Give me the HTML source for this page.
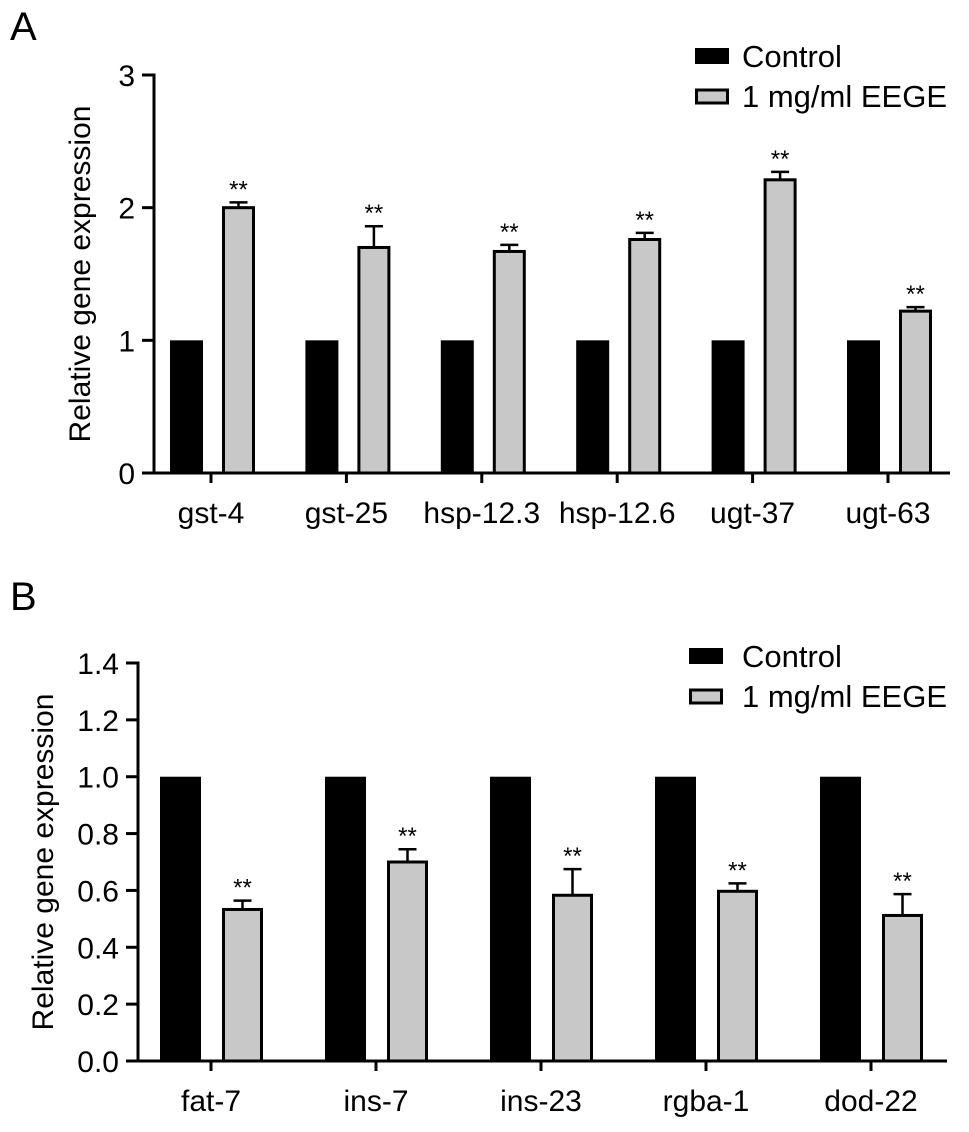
<!DOCTYPE html>
<html><head><meta charset="utf-8"><style>
html,body{margin:0;padding:0;background:#fff;}
svg{display:block;font-family:"Liberation Sans",Arial,sans-serif;}
</style></head><body>
<svg id="chart" width="969" height="1132" viewBox="0 0 969 1132" xmlns="http://www.w3.org/2000/svg"></svg>
<script>
// Panel A data
const catsA = ["gst-4","gst-25","hsp-12.3","hsp-12.6","ugt-37","ugt-63"];
const controlA = [1,1,1,1,1,1];
const eegeA = [2.0,1.70,1.67,1.76,2.21,1.22];
const errA = [0.04,0.16,0.05,0.05,0.06,0.03];
const ticksA = [0,1,2,3];
const tickLabelsA = ["0","1","2","3"];
// Panel B data
const catsB = ["fat-7","ins-7","ins-23","rgba-1","dod-22"];
const controlB = [1,1,1,1,1];
const eegeB = [0.533,0.70,0.583,0.597,0.512];
const errB = [0.031,0.045,0.092,0.028,0.075];
const ticksB = [0,0.2,0.4,0.6,0.8,1.0,1.2,1.4];
const tickLabelsB = ["0.0","0.2","0.4","0.6","0.8","1.0","1.2","1.4"];

const NS="http://www.w3.org/2000/svg";
const svg=document.getElementById('chart');
function mk(tag,attrs,parent){const e=document.createElementNS(NS,tag);for(const k in attrs)e.setAttribute(k,attrs[k]);(parent||svg).appendChild(e);return e;}

function panel(o){
  const g=mk('g',{});
  
  
  const y=v=>o.y0-(v-o.vmin)/(o.vmax-o.vmin)*(o.y0-o.yTop);
  const xc=i=>o.firstTick+i*o.step;
  const L=mk('text',{x:10,y:o.letterY,'font-size':40},g);L.textContent=o.letter;
  
  
  const t=mk('text',{x:0,y:0,'font-size':30,'text-anchor':'middle',transform:`translate(${o.titleX},${(o.y0+o.yTop)/2}) rotate(-90)`},g);
  t.textContent='Relative gene expression';
  
  
  o.cats.forEach((c,i)=>{
    const cx=xc(i);
    const b1=mk('rect',{x:cx-o.off2,y:y(o.ctrl[i]),width:o.bw,height:o.y0-y(o.ctrl[i]),fill:'#000'},g);
    
    
    const top=y(o.eege[i]);
    const b2=mk('rect',{x:cx+o.off1+1.5,y:top,width:o.bw-3,height:o.y0-top,fill:'#c8c8c8',stroke:'#000','stroke-width':3},g);
    
    
    const ecx=cx+o.off1+o.bw/2, et=y(o.eege[i]+o.err[i]);
    const eb=mk('path',{d:`M${ecx},${top} V${et} M${ecx-9},${et} H${ecx+9}`,stroke:'#000','stroke-width':2.5,fill:'none'},g);
    
    
    const s=mk('text',{x:ecx,y:et-5,'font-size':24,'text-anchor':'middle'},g);s.textContent='**';
    
    
    const tk=mk('line',{x1:cx,x2:cx,y1:o.y0,y2:o.y0+10,stroke:'#000','stroke-width':3},g);
    
    
    const xl=mk('text',{x:cx,y:o.y0+50,'font-size':30,'text-anchor':'middle'},g);xl.textContent=c;
    
    
  });
  const ya=mk('line',{x1:o.axX,x2:o.axX,y1:o.yTop-1.5,y2:o.y0+1.5,stroke:'#000','stroke-width':3},g);
  
  
  const xa=mk('line',{x1:o.axX,x2:o.axEnd,y1:o.y0,y2:o.y0,stroke:'#000','stroke-width':3},g);
  
  
  o.ticks.forEach((v,i)=>{
    const ty=y(v);
    const tl=mk('line',{x1:o.axX-12,x2:o.axX,y1:ty,y2:ty,stroke:'#000','stroke-width':3},g);
    
    
    const tx=mk('text',{x:o.axX-19,y:ty+11,'font-size':30,'text-anchor':'end'},g);tx.textContent=o.tickLabels[i];
    
    
  });
  const lg=mk('g',{},g);
  
  
  const r1=mk('rect',{x:o.legX,y:o.legY,width:34,height:16,fill:'#000'},lg);
  
  
  const l1=mk('text',{x:742,y:o.legY+19,'font-size':31},lg);l1.textContent='Control';
  
  
  const r2=mk('rect',{x:o.legX+1.5,y:o.legY+42,width:31,height:13,fill:'#c8c8c8',stroke:'#000','stroke-width':3},lg);
  
  
  const l2=mk('text',{x:742,y:o.legY+59,'font-size':31},lg);l2.textContent='1 mg/ml EEGE';
  
  
}

panel({name:'panel-a',letter:'A',letterY:40,cats:catsA,ctrl:controlA,eege:eegeA,err:errA,ticks:ticksA,tickLabels:tickLabelsA,
  vmin:0,vmax:3,y0:473,yTop:75,axX:154,axEnd:950,firstTick:211,step:135.4,bw:33,off2:41,off1:11,titleX:90,legX:695,legY:48});
panel({name:'panel-b',letter:'B',letterY:610,cats:catsB,ctrl:controlB,eege:eegeB,err:errB,ticks:ticksB,tickLabels:tickLabelsB,
  vmin:0,vmax:1.4,y0:1061,yTop:663,axX:138,axEnd:947,firstTick:211,step:165,bw:41,off2:51,off1:11,titleX:53,legX:689,legY:648});
</script>
</body></html>
